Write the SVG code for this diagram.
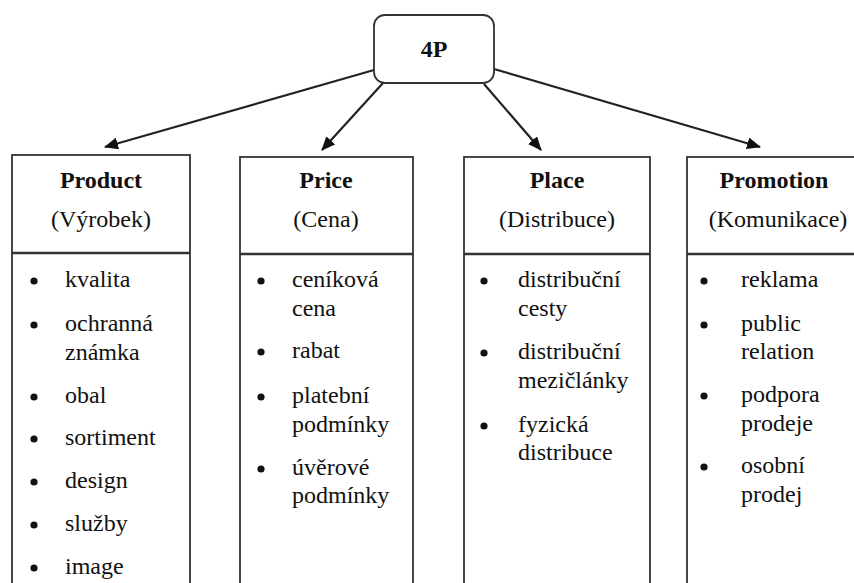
<svg xmlns="http://www.w3.org/2000/svg" width="854" height="583" viewBox="0 0 854 583" font-family="'Liberation Serif', 'DejaVu Serif', serif">
<style>
.box{fill:#fff;stroke:#333;stroke-width:1.8}
.div{stroke:#333;stroke-width:2.4}
text{font-family:'Liberation Serif','DejaVu Serif',serif;font-size:24px;fill:#111}
.h{font-weight:bold;text-anchor:middle}
.c{text-anchor:middle}
.conn{stroke:#222;stroke-width:2.2;fill:none;marker-end:url(#ah)}
.b{fill:#111}
</style>
<defs>
<marker id="ah" markerWidth="14" markerHeight="12" refX="13" refY="6" orient="auto" markerUnits="userSpaceOnUse">
<path d="M0,0 L14,6 L0,12 Z" fill="#111"/>
</marker>
</defs>
<rect width="854" height="583" fill="#fff"/>
<g id="connectors">
<line class="conn" x1="374" y1="70" x2="105" y2="147"/>
<line class="conn" x1="383" y1="83" x2="322" y2="150"/>
<line class="conn" x1="484" y1="84" x2="541" y2="150"/>
<line class="conn" x1="494" y1="69" x2="760" y2="147"/>
</g>
<g id="root">
<rect class="box" x="374" y="15" width="120" height="68" rx="11"/>
<text class="h" x="434" y="57">4P</text>
</g>
<g id="product">
<rect class="box" x="12" y="155" width="178" height="450"/>
<line class="div" x1="12" y1="253" x2="190" y2="253"/>
<text class="h" x="101" y="188">Product</text>
<text class="c" x="101" y="227">(Výrobek)</text>
<g class="b"><circle cx="34" cy="281" r="3.6"/><circle cx="34" cy="325" r="3.6"/><circle cx="34" cy="397" r="3.6"/><circle cx="34" cy="439" r="3.6"/><circle cx="34" cy="482" r="3.6"/><circle cx="34" cy="525" r="3.6"/><circle cx="34" cy="568" r="3.6"/></g>
<text x="65" y="287">kvalita</text>
<text x="65" y="331">ochranná</text>
<text x="65" y="360">známka</text>
<text x="65" y="403">obal</text>
<text x="65" y="445">sortiment</text>
<text x="65" y="488">design</text>
<text x="65" y="531">služby</text>
<text x="65" y="574">image</text>
</g>
<g id="price">
<rect class="box" x="240" y="157" width="173" height="450"/>
<line class="div" x1="240" y1="254" x2="413" y2="254"/>
<text class="h" x="326" y="188">Price</text>
<text class="c" x="326" y="227">(Cena)</text>
<g class="b"><circle cx="261" cy="281" r="3.6"/><circle cx="261" cy="352" r="3.6"/><circle cx="261" cy="397" r="3.6"/><circle cx="261" cy="469" r="3.6"/></g>
<text x="292" y="287">ceníková</text>
<text x="292" y="316">cena</text>
<text x="292" y="358">rabat</text>
<text x="292" y="403">platební</text>
<text x="292" y="432">podmínky</text>
<text x="292" y="475">úvěrové</text>
<text x="292" y="503">podmínky</text>
</g>
<g id="place">
<rect class="box" x="464" y="157" width="186" height="450"/>
<line class="div" x1="464" y1="254" x2="650" y2="254"/>
<text class="h" x="557" y="188">Place</text>
<text class="c" x="557" y="227">(Distribuce)</text>
<g class="b"><circle cx="484" cy="281" r="3.6"/><circle cx="484" cy="353" r="3.6"/><circle cx="484" cy="426" r="3.6"/></g>
<text x="518" y="287">distribuční</text>
<text x="518" y="316">cesty</text>
<text x="518" y="359">distribuční</text>
<text x="518" y="388">mezičlánky</text>
<text x="518" y="432">fyzická</text>
<text x="518" y="460">distribuce</text>
</g>
<g id="promotion">
<rect class="box" x="687" y="157" width="190" height="450"/>
<line class="div" x1="687" y1="254" x2="877" y2="254"/>
<text class="h" x="774" y="188">Promotion</text>
<text class="c" x="778" y="227">(Komunikace)</text>
<g class="b"><circle cx="704" cy="281" r="3.6"/><circle cx="704" cy="325" r="3.6"/><circle cx="704" cy="396" r="3.6"/><circle cx="704" cy="467" r="3.6"/></g>
<text x="741" y="287">reklama</text>
<text x="741" y="331">public</text>
<text x="741" y="359">relation</text>
<text x="741" y="402">podpora</text>
<text x="741" y="431">prodeje</text>
<text x="741" y="473">osobní</text>
<text x="741" y="502">prodej</text>
</g>
</svg>
